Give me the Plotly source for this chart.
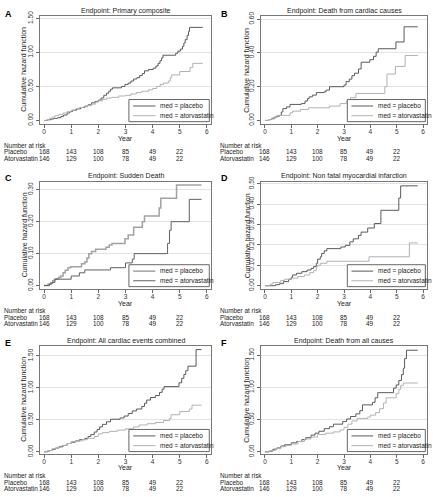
import plotly.graph_objects as go

W, H = 433, 497

# ---------------- data ----------------
titles = ["Endpoint: Primary composite", "Endpoint: Death from cardiac causes",
          "Endpoint: Sudden Death", "Endpoint: Non fatal myocardial infarction",
          "Endpoint: All cardiac events combined", "Endpoint: Death from all causes"]
letters = ["A", "B", "C", "D", "E", "F"]

risk_times = [0, 1, 2, 3, 4, 5]
placebo_risk = [168, 143, 108, 85, 49, 22]
atorva_risk = [146, 129, 100, 78, 49, 22]
x_ticks = [0, 1, 2, 3, 4, 5, 6]

yticks_A = [0, 0.5, 1.0, 1.5]
yticks_B = [0, 0.2, 0.4, 0.6]
yticks_C = [0, 0.1, 0.2, 0.3]
yticks_D = [0, 0.1, 0.2, 0.3, 0.4, 0.5]
yticks_E = [0, 0.5, 1.0, 1.5]
yticks_F = [0, 0.5, 1.0, 1.5]

A_plac_t = [0, 0.12, 0.25, 0.35, 0.5, 0.62, 0.72, 0.85, 0.95, 1.05, 1.2, 1.35, 1.5, 1.62, 1.75, 1.88, 2.0,
            2.1, 2.2, 2.3, 2.38, 2.45, 2.52, 2.85, 2.98, 3.1, 3.2, 3.3, 3.42, 3.52, 3.62, 3.7, 3.85, 4.02,
            4.12, 4.2, 4.27, 4.33, 4.38, 4.85, 4.93, 5.02, 5.1, 5.15, 5.2, 5.27, 5.32, 5.36, 5.85]
A_plac_h = [0, 0.01, 0.02, 0.03, 0.04, 0.06, 0.08, 0.11, 0.13, 0.15, 0.17, 0.19, 0.21, 0.23, 0.26, 0.28, 0.30,
            0.33, 0.37, 0.40, 0.43, 0.46, 0.48, 0.50, 0.53, 0.55, 0.58, 0.61, 0.63, 0.66, 0.69, 0.73, 0.75, 0.77,
            0.80, 0.84, 0.88, 0.92, 0.96, 0.99, 1.02, 1.05, 1.09, 1.14, 1.19, 1.25, 1.31, 1.37, 1.37]
A_ator_t = [0, 0.1, 0.2, 0.3, 0.4, 0.55, 0.7, 0.85, 1.0, 1.15, 1.3, 1.45, 1.6, 1.75, 1.9, 2.0, 2.15, 2.3, 2.5,
            2.75, 3.0, 3.2, 3.4, 3.6, 3.85, 4.0, 4.15, 4.28, 4.4, 4.58, 4.65, 4.7, 5.0, 5.38, 5.48, 5.85]
A_ator_h = [0, 0.01, 0.03, 0.05, 0.07, 0.09, 0.11, 0.13, 0.15, 0.17, 0.19, 0.20, 0.22, 0.24, 0.27, 0.29, 0.31,
            0.33, 0.34, 0.36, 0.37, 0.39, 0.41, 0.43, 0.45, 0.47, 0.50, 0.53, 0.55, 0.58, 0.63, 0.67, 0.72,
            0.78, 0.84, 0.84]

B_plac_t = [0, 0.15, 0.25, 0.35, 0.45, 0.55, 0.62, 0.68, 0.82, 0.95, 1.38, 1.52, 1.62, 1.68, 1.8, 1.95, 2.25,
            2.32, 2.45, 3.0, 3.08, 3.2, 3.3, 3.4, 3.55, 3.65, 3.98, 4.12, 4.22, 4.3, 4.97, 5.28, 5.8]
B_plac_h = [0, 0.005, 0.01, 0.02, 0.025, 0.03, 0.05, 0.07, 0.08, 0.095, 0.10, 0.115, 0.13, 0.14, 0.15, 0.165,
            0.17, 0.18, 0.20, 0.21, 0.23, 0.245, 0.265, 0.28, 0.305, 0.345, 0.36, 0.38, 0.405, 0.425, 0.465,
            0.555, 0.555]
B_ator_t = [0, 0.15, 0.25, 0.45, 0.95, 1.05, 1.35, 1.65, 2.45, 2.85, 3.1, 3.25, 3.45, 4.55, 4.63, 4.95, 5.32, 5.8]
B_ator_h = [0, 0.005, 0.015, 0.03, 0.045, 0.055, 0.065, 0.075, 0.085, 0.10, 0.115, 0.135, 0.16, 0.20, 0.275,
            0.32, 0.385, 0.385]

C_plac_t = [0, 0.15, 0.25, 0.32, 0.38, 0.48, 0.55, 0.62, 0.7, 0.78, 0.88, 0.98, 1.38, 1.5, 1.58, 1.65, 1.75,
            1.9, 2.28, 2.4, 2.5, 2.98, 3.1, 3.3, 3.62, 3.7, 4.24, 4.3, 4.88, 5.8]
C_plac_h = [0, 0.005, 0.01, 0.015, 0.02, 0.022, 0.026, 0.03, 0.04, 0.048, 0.056, 0.059, 0.068, 0.074, 0.086,
            0.10, 0.107, 0.114, 0.12, 0.127, 0.132, 0.147, 0.158, 0.183, 0.20, 0.218, 0.243, 0.273, 0.315, 0.315]
C_ator_t = [0, 0.2, 0.3, 0.4, 1.0, 1.3, 1.5, 2.45, 3.0, 3.25, 3.32, 4.55, 4.62, 4.68, 5.35, 5.8]
C_ator_h = [0, 0.005, 0.01, 0.02, 0.03, 0.04, 0.049, 0.056, 0.071, 0.083, 0.10, 0.132, 0.173, 0.20, 0.27, 0.27]

D_plac_t = [0, 0.4, 0.55, 0.7, 0.9, 1.0, 1.05, 1.2, 1.4, 1.6, 1.75, 1.85, 1.95, 2.0, 2.1, 2.15, 2.25, 2.35,
            2.88, 3.05, 3.22, 3.35, 3.55, 3.65, 3.9, 4.15, 4.4, 5.08, 5.15, 5.8]
D_plac_h = [0, 0.005, 0.01, 0.02, 0.032, 0.042, 0.053, 0.061, 0.069, 0.077, 0.085, 0.094, 0.11, 0.13, 0.142,
            0.158, 0.171, 0.182, 0.19, 0.198, 0.215, 0.23, 0.247, 0.263, 0.283, 0.305, 0.37, 0.43, 0.49, 0.49]
D_ator_t = [0, 0.2, 0.3, 0.6, 0.75, 1.0, 1.25, 1.5, 1.7, 1.85, 1.95, 2.0, 2.1, 2.35, 3.95, 5.48, 5.8]
D_ator_h = [0, 0.008, 0.016, 0.026, 0.032, 0.037, 0.045, 0.053, 0.065, 0.074, 0.094, 0.10, 0.11, 0.12, 0.142,
            0.21, 0.21]

E_plac_t = [0, 0.1, 0.2, 0.3, 0.42, 0.55, 0.7, 0.85, 1.0, 1.15, 1.3, 1.5, 1.62, 1.72, 1.85, 1.95, 2.05, 2.15,
            2.3, 2.45, 2.8, 2.95, 3.1, 3.25, 3.4, 3.6, 3.7, 3.78, 3.92, 4.1, 4.25, 4.35, 4.42, 4.97, 5.07, 5.15,
            5.22, 5.3, 5.6, 5.8]
E_plac_h = [0, 0.01, 0.02, 0.04, 0.06, 0.08, 0.10, 0.13, 0.15, 0.17, 0.19, 0.21, 0.24, 0.27, 0.31, 0.35, 0.39,
            0.43, 0.47, 0.51, 0.53, 0.56, 0.60, 0.64, 0.67, 0.71, 0.76, 0.81, 0.85, 0.88, 0.93, 0.98, 1.02, 1.08,
            1.15, 1.21, 1.27, 1.34, 1.60, 1.60]
E_ator_t = [0, 0.15, 0.3, 0.45, 0.65, 0.85, 1.0, 1.2, 1.4, 1.6, 1.85, 2.0, 2.15, 2.4, 2.7, 3.0, 3.3, 3.5, 3.8,
            4.1, 4.4, 4.62, 4.68, 5.0, 5.35, 5.45, 5.8]
E_ator_h = [0, 0.02, 0.05, 0.07, 0.10, 0.13, 0.16, 0.17, 0.19, 0.21, 0.24, 0.28, 0.30, 0.32, 0.34, 0.36, 0.39,
            0.42, 0.44, 0.46, 0.49, 0.52, 0.58, 0.63, 0.67, 0.73, 0.73]

F_plac_t = [0, 0.15, 0.3, 0.45, 0.6, 0.75, 1.0, 1.2, 1.4, 1.55, 1.75, 1.9, 2.05, 2.25, 2.45, 2.6, 2.95, 3.1,
            3.25, 3.45, 3.6, 3.7, 4.08, 4.18, 4.28, 4.88, 4.98, 5.08, 5.18, 5.25, 5.3, 5.37, 5.8]
F_plac_h = [0, 0.01, 0.04, 0.06, 0.09, 0.11, 0.14, 0.16, 0.19, 0.22, 0.26, 0.29, 0.32, 0.36, 0.39, 0.43, 0.47,
            0.51, 0.55, 0.59, 0.64, 0.73, 0.77, 0.84, 0.92, 0.99, 1.04, 1.11, 1.20, 1.30, 1.45, 1.58, 1.58]
F_ator_t = [0, 0.2, 0.4, 0.6, 0.8, 1.0, 1.25, 1.5, 1.75, 2.0, 2.3, 2.6, 2.85, 3.0, 3.15, 3.3, 3.5, 3.9, 4.0,
            4.2, 4.35, 4.5, 4.6, 4.98, 5.08, 5.15, 5.25, 5.8]
F_ator_h = [0, 0.02, 0.05, 0.08, 0.10, 0.12, 0.16, 0.20, 0.23, 0.27, 0.29, 0.31, 0.34, 0.38, 0.43, 0.48, 0.52,
            0.54, 0.57, 0.61, 0.67, 0.76, 0.84, 0.91, 0.97, 1.03, 1.07, 1.07]

series = [
    (A_plac_t, A_plac_h, A_ator_t, A_ator_h, yticks_A, [-0.05, 1.54]),
    (B_plac_t, B_plac_h, B_ator_t, B_ator_h, yticks_B, [-0.02, 0.62]),
    (C_plac_t, C_plac_h, C_ator_t, C_ator_h, yticks_C, [-0.01, 0.325]),
    (D_plac_t, D_plac_h, D_ator_t, D_ator_h, yticks_D, [-0.015, 0.51]),
    (E_plac_t, E_plac_h, E_ator_t, E_ator_h, yticks_E, [-0.03, 1.66]),
    (F_plac_t, F_plac_h, F_ator_t, F_ator_h, yticks_F, [-0.03, 1.65]),
]

# ---------------- layout (pixel geometry) ----------------
FONT = "Liberation Sans, Arial, sans-serif"
cols = [(40, 211), (261, 427)]
rows = [(10, 120), (179, 288), (346, 456)]
row_text = [  # title, year, risk header, placebo row, atorva row, letter
    (5, 134.5, 142, 148.5, 155, 8),
    (173, 302.5, 310.5, 317, 323.5, 175),
    (341, 470.5, 478.5, 485, 491.5, 343),
]
col_text = [(2, 24), (218, 247)]  # left text x, y-title x

DARK = "#5a5a5a"
LIGHT = "#b2b2b2"


def px(x):
    return x / W


def py(y):
    return 1 - y / H


fig = go.Figure()
layout = dict(width=W, height=H, margin=dict(l=0, r=0, t=0, b=0),
              paper_bgcolor="white", plot_bgcolor="white", showlegend=False,
              font=dict(family=FONT, size=7, color="#222"))
annotations = []
shapes = []

for i in range(6):
    r, c = divmod(i, 2)
    k = "" if i == 0 else str(i + 1)
    xa, ya = "x" + k, "y" + k
    pt, ph, at, ah, yt, yr = series[i]
    x0, x1 = cols[c]
    y0, y1 = rows[r]
    tty, yry, rhy, rpy, ray, ly = row_text[r]
    lx, ytx = col_text[c]

    if i == 2:
        plac_style = dict(color="#a2a2a2", width=1.5)
        ator_style = dict(color="#606060", width=1)
    else:
        plac_style = dict(color=DARK, width=1)
        ator_style = dict(color=LIGHT, width=1)

    fig.add_trace(go.Scatter(x=pt, y=ph, mode="lines", line=dict(shape="hv", **plac_style),
                             xaxis=xa, yaxis=ya, name="med = placebo"))
    fig.add_trace(go.Scatter(x=at, y=ah, mode="lines", line=dict(shape="hv", **ator_style),
                             xaxis=xa, yaxis=ya, name="med = atorvastatin"))

    layout["xaxis" + k] = dict(domain=[px(x0), px(x1)], anchor=ya, range=[-0.15, 6.15],
                               tickvals=x_ticks, ticks="outside", ticklen=3, tickcolor="#666",
                               ticklabelstandoff=-2,
                               showgrid=False, zeroline=False, showline=True, mirror=True,
                               linecolor="#777", linewidth=1,
                               tickfont=dict(size=6.5, color="#333"))
    layout["yaxis" + k] = dict(domain=[py(y1), py(y0)], anchor=xa, range=yr,
                               tickvals=yt, tickformat=".2f", tickangle=-90,
                               ticks="outside", ticklen=3, tickcolor="#666",
                               showgrid=True, gridcolor="#e3e3e3", gridwidth=1,
                               zeroline=True, zerolinecolor="rgba(0,0,0,0)",
                               showline=True, mirror=True, linecolor="#777", linewidth=1,
                               tickfont=dict(size=6.5, color="#333"))

    cx = (x0 + x1) / 2
    annotations += [
        dict(text="<b>%s</b>" % letters[i], x=px(lx + 1), y=py(ly), xref="paper", yref="paper",
             xanchor="left", yanchor="middle", showarrow=False, font=dict(size=9, color="black")),
        dict(text=titles[i], x=px(cx), y=py(tty), xref="paper", yref="paper",
             xanchor="center", yanchor="middle", showarrow=False, font=dict(size=7, color="#222")),
        dict(text="Cumulative hazard function", x=px(ytx), y=py((y0 + y1) / 2), xref="paper",
             yref="paper", textangle=-90, xanchor="center", yanchor="middle", showarrow=False,
             font=dict(size=7, color="#222")),
        dict(text="Year", x=px(cx), y=py(yry), xref="paper", yref="paper",
             xanchor="center", yanchor="middle", showarrow=False, font=dict(size=7, color="#222")),
        dict(text="Number at risk", x=px(lx), y=py(rhy), xref="paper", yref="paper",
             xanchor="left", yanchor="middle", showarrow=False, font=dict(size=6.4, color="#222")),
        dict(text="Placebo", x=px(lx), y=py(rpy), xref="paper", yref="paper",
             xanchor="left", yanchor="middle", showarrow=False, font=dict(size=6.4, color="#222")),
        dict(text="Atorvastatin", x=px(lx), y=py(ray), xref="paper", yref="paper",
             xanchor="left", yanchor="middle", showarrow=False, font=dict(size=6.4, color="#222")),
    ]
    for t, n1, n2 in zip(risk_times, placebo_risk, atorva_risk):
        annotations.append(dict(text=str(n1), x=t, y=py(rpy), xref=xa, yref="paper",
                                xanchor="center", yanchor="middle", showarrow=False,
                                font=dict(size=6.4, color="#222")))
        annotations.append(dict(text=str(n2), x=t, y=py(ray), xref=xa, yref="paper",
                                xanchor="center", yanchor="middle", showarrow=False,
                                font=dict(size=6.4, color="#222")))

    # manual legend box
    xd, yd = xa + " domain", ya + " domain"
    shapes.append(dict(type="rect", xref=xd, yref=yd, x0=0.52, x1=0.99, y0=0.02, y1=0.225,
                       line=dict(color="#666", width=1), fillcolor="white", layer="above"))
    for (ytxt, style, label) in [(0.165, plac_style, "med = placebo"),
                                 (0.075, ator_style, "med = atorvastatin")]:
        shapes.append(dict(type="line", xref=xd, yref=yd, x0=0.545, x1=0.675, y0=ytxt, y1=ytxt,
                           line=dict(color=style["color"], width=style["width"]), layer="above"))
        annotations.append(dict(text=label, x=0.69, y=ytxt, xref=xd, yref=yd, xanchor="left",
                                yanchor="middle", showarrow=False, font=dict(size=6.5, color="#222")))

layout["annotations"] = annotations
layout["shapes"] = shapes
fig.update_layout(**layout)
fig.write_html("out.html", config={"displayModeBar": False},
               post_script="document.body.style.margin='0';document.body.style.overflow='hidden';")
